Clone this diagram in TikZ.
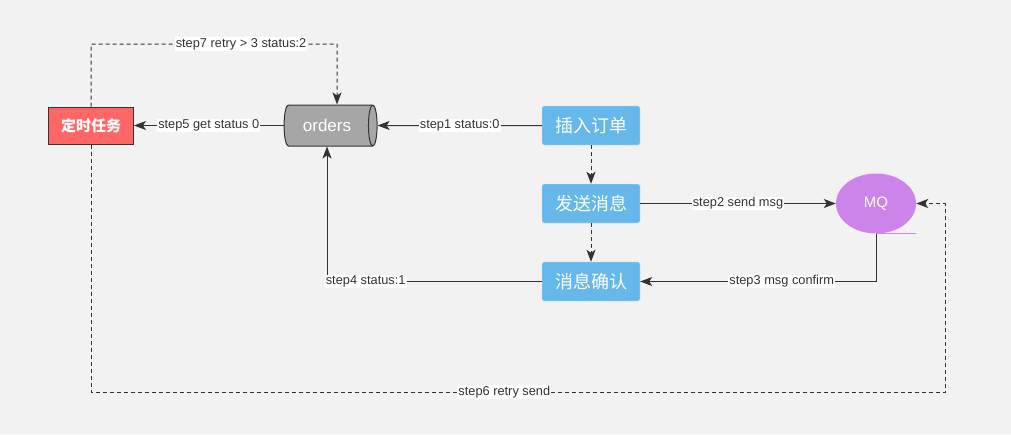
\documentclass[tikz,border=0pt]{standalone}
\usepackage{fontspec}
\setmainfont{Liberation Sans}
\newfontfamily\cjk{Noto Sans CJK SC}
\usetikzlibrary{shapes.geometric, arrows.meta}
\definecolor{bg}{HTML}{F2F2F2}
\definecolor{ink}{HTML}{333333}
\definecolor{taskred}{HTML}{FF6666}
\definecolor{dbgray}{HTML}{A6A6A6}
\definecolor{boxblue}{HTML}{66B8EB}
\definecolor{mqpurple}{HTML}{CC84EA}
\tikzstyle{box} = [rectangle, rounded corners=2pt, minimum width=98pt, minimum height=39pt, text centered, draw=white!70!boxblue, fill=boxblue, text=white, font=\cjk\fontsize{18}{20}\selectfont]
\tikzstyle{task} = [rectangle, minimum width=85pt, minimum height=37pt, line width=1pt, draw=ink, fill=taskred, text=white, font=\cjk\bfseries\fontsize{15}{17}\selectfont]
\tikzstyle{db} = [cylinder, shape aspect=0.45, minimum width=41pt, minimum height=93pt, line width=1pt, draw=ink, cylinder uses custom fill, cylinder body fill=dbgray, cylinder end fill=dbgray, text=white, font=\fontsize{17}{19}\selectfont]
\tikzstyle{queue} = [ellipse, minimum width=80pt, minimum height=60pt, fill=mqpurple, text=white, font=\fontsize{15}{17}\selectfont]
\tikzset{arrow/.style={draw=ink, line width=1pt, -{Stealth[length=12pt, width=9pt, inset=3pt]}}}
\tikzstyle{dasharrow} = [arrow, dash pattern=on 4pt off 3pt]
\tikzstyle{lbl} = [fill=white, inner sep=1pt, text=ink, font=\fontsize{12.8}{14}\selectfont]

\begin{document}
\begin{tikzpicture}[x=1pt, y=-1pt, node distance=78pt]
	\fill [bg] (0,0) rectangle (1011,434);
	\node (task) [task] at (91,125.5) {定时任务};
	\node (orders) [db] at (327,125.5) {orders};
	\node (insert) [box] at (591,125.5) {插入订单};
	\node (send) [box, below of=insert] {发送消息};
	\node (confirm) [box, below of=send] {消息确认};
	\node (mq) [queue] at (876,203.5) {MQ};
	\draw [mqpurple, line width=1pt] (mq.south) -- ++(40,0);

	\draw [arrow] (insert) -- node[lbl] {step1 status:0} (orders);
	\draw [dasharrow] (insert) -- (send);
	\draw [dasharrow] (send) -- (confirm);
	\draw [arrow] (send) -- node[lbl] {step2 send msg} (mq);
	\draw [arrow] (mq.south) |- node[lbl, pos=0.7] {step3 msg confirm} (confirm.east);
	\draw [arrow] (confirm.west) -| node[lbl, pos=0.41] {step4 status:1} (orders.south);
	\draw [arrow] (orders.west) -- node[lbl] {step5 get status 0} (task.east);
	\draw [dasharrow] (task.south) -- (91,392) -- node[lbl, pos=0.484] {step6 retry send} (945,392) -- (945,203.5) -- (mq.east);
	\draw [dasharrow] (task.north) -- (91,44) -- node[lbl, pos=0.61] {step7 retry > 3 status:2} (337,44) -- ([xshift=10pt]orders.north);
\end{tikzpicture}
\end{document}
